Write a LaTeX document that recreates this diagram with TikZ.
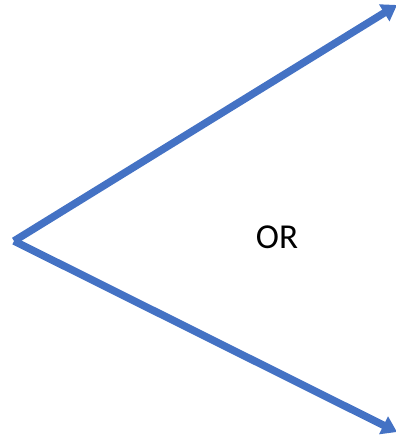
\documentclass[tikz,border=0pt]{standalone}
\usepackage{fontspec}
\setmainfont{Carlito}
\usetikzlibrary{arrows.meta}
\definecolor{arrowblue}{HTML}{4472C4}
\begin{document}
\begin{tikzpicture}[x=1pt,y=1pt,
  arr/.style={draw=arrowblue,line width=7.5pt,line join=miter,-{Triangle[length=15pt,width=19pt]}}]
\useasboundingbox (0,0) rectangle (396,437);
\coordinate (s) at (14,196);
\coordinate (t) at (397,432);
\coordinate (b) at (397,5);
\draw[arr] (s) -- (t);
\draw[arr] (s) -- (b);
\node[font=\fontsize{35}{40}\selectfont] (or) at (277,200) {OR};
\end{tikzpicture}
\end{document}
